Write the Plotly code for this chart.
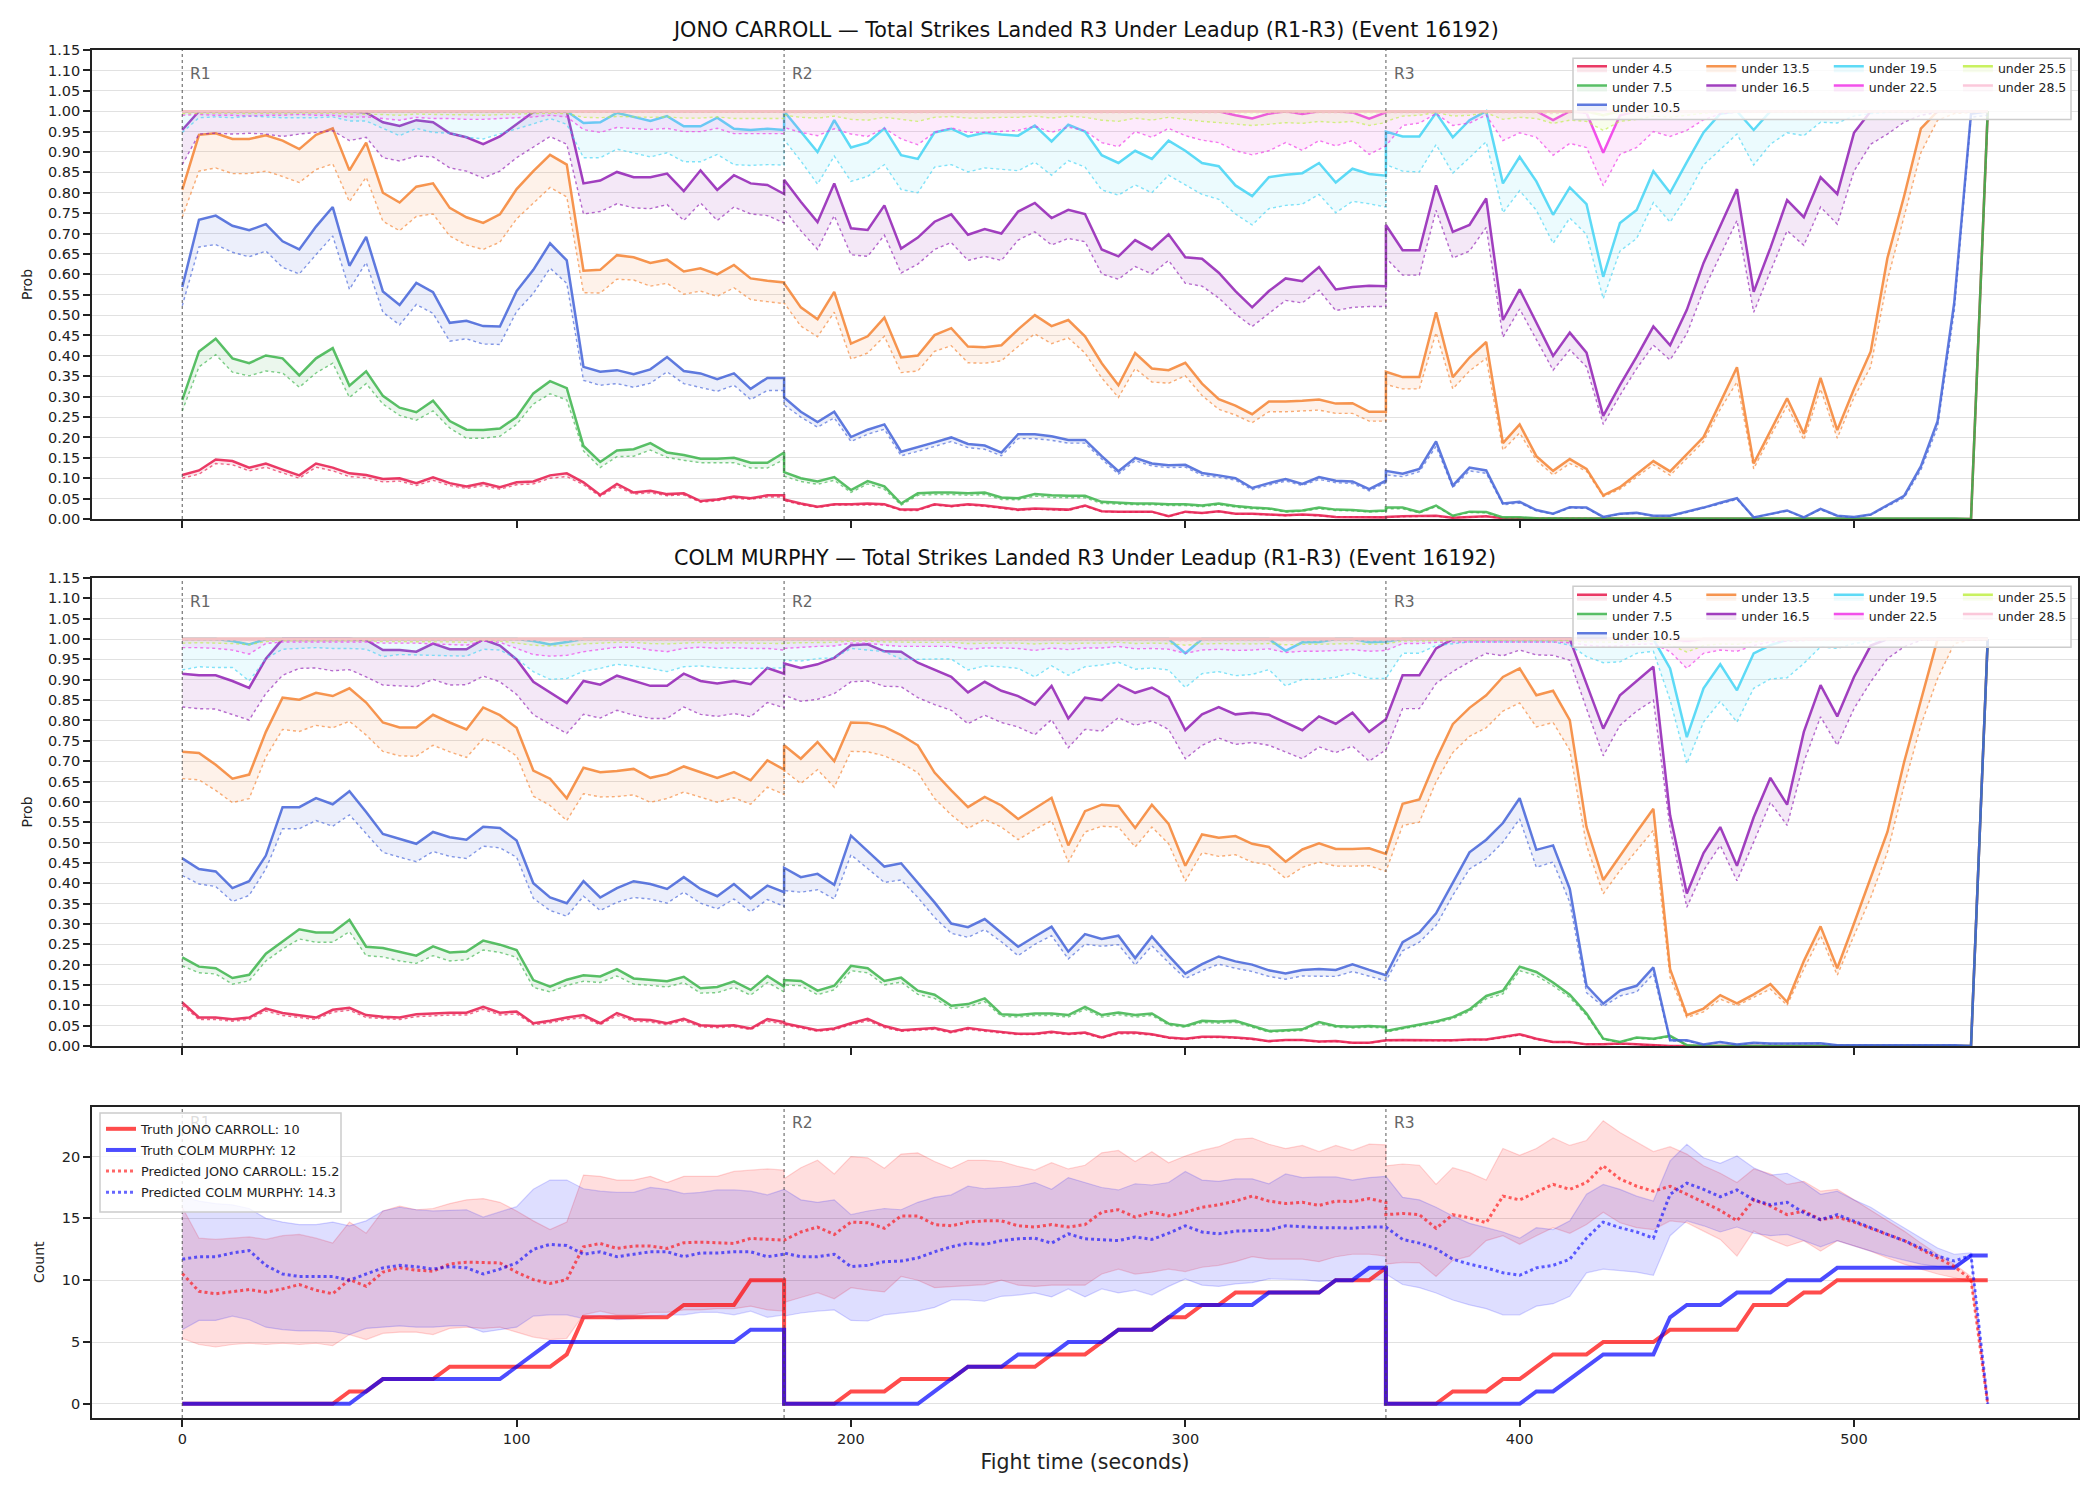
import plotly.graph_objects as go

# ------------------------------------------------------------------ data
# fight time (s): 37 samples per round, round boundaries repeated
T = [0, 5, 10, 15, 20, 25, 30, 35, 40, 45, 50, 55, 60, 65, 70, 75, 80, 85, 90, 95, 100, 105, 110, 115, 120, 125, 130, 135, 140, 145, 150, 155, 160, 165, 170, 175, 180,
     180, 185, 190, 195, 200, 205, 210, 215, 220, 225, 230, 235, 240, 245, 250, 255, 260, 265, 270, 275, 280, 285, 290, 295, 300, 305, 310, 315, 320, 325, 330, 335, 340, 345, 350, 355, 360,
     360, 365, 370, 375, 380, 385, 390, 395, 400, 405, 410, 415, 420, 425, 430, 435, 440, 445, 450, 455, 460, 465, 470, 475, 480, 485, 490, 495, 500, 505, 510, 515, 520, 525, 530, 535, 540]

ROUND_STARTS = [0, 180, 360]
ROUND_LABELS = ["R1", "R2", "R3"]
THRESH_NAMES = ["under 4.5", "under 7.5", "under 10.5", "under 13.5", "under 16.5",
                "under 19.5", "under 22.5", "under 25.5", "under 28.5"]
COLORS = ["#e6194b", "#3cb44b", "#4363d8", "#f58231", "#911eb4",
          "#42d4f4", "#f032e6", "#bfef45", "#fabed4"]
PROB_TICKS = [0.00, 0.05, 0.10, 0.15, 0.20, 0.25, 0.30, 0.35, 0.40, 0.45, 0.50, 0.55,
              0.60, 0.65, 0.70, 0.75, 0.80, 0.85, 0.90, 0.95, 1.00, 1.05, 1.10, 1.15]
COUNT_TICKS = [0, 5, 10, 15, 20]
TIME_TICKS = [0, 100, 200, 300, 400, 500]

# ---------------- JONO CARROLL (top panel): live probability (solid) and leadup (dotted)
C45 = [0.108,0.119,0.146,0.142,0.126,0.136,0.121,0.107,0.136,0.126, 0.112,0.108,0.098,0.100,0.088,0.102,0.088,0.080,0.088,0.078, 0.090,0.092,0.107,0.112,0.090,0.059,0.086,0.065,0.069,0.061, 0.063,0.044,0.048,0.055,0.051,0.058,0.058,
       0.048,0.038,0.030,0.036,0.036,0.038,0.036,0.023,0.023,0.036, 0.032,0.036,0.033,0.028,0.023,0.026,0.025,0.023,0.033,0.019, 0.018,0.018,0.018,0.007,0.018,0.015,0.019,0.013,0.013,0.011, 0.009,0.011,0.009,0.005,0.005,0.004,0.004,
       0.005,0.007,0.007,0.008,0.003,0.005,0.007,0.002,0.001,0.001, 0.001,0.001,0.001,0,0,0,0,0,0,0, 0,0,0,0,0,0,0,0,0,0, 0,0,0,0,0,0,1.0]
C45_D = [0.100,0.110,0.136,0.133,0.118,0.127,0.113,0.100,0.127,0.118, 0.104,0.101,0.091,0.093,0.082,0.095,0.082,0.075,0.082,0.073, 0.084,0.086,0.100,0.104,0.084,0.055,0.080,0.061,0.064,0.057, 0.059,0.041,0.045,0.051,0.048,0.054,0.054,
         0.045,0.035,0.028,0.034,0.034,0.035,0.034,0.021,0.021,0.034, 0.030,0.034,0.031,0.026,0.021,0.024,0.023,0.021,0.031,0.018, 0.017,0.017,0.017,0.006,0.017,0.014,0.018,0.012,0.012,0.010, 0.008,0.010,0.008,0.005,0.005,0.004,0.004,
         0.005,0.006,0.006,0.007,0.003,0.005,0.006,0.002,0.001,0.001, 0.001,0.001,0.001,0,0,0,0,0,0,0, 0,0,0,0,0,0,0,0,0,0, 0,0,0,0,0,0,0.99]
C75 = [0.292,0.411,0.442,0.394,0.382,0.401,0.394,0.352,0.394,0.419, 0.327,0.362,0.302,0.273,0.262,0.290,0.240,0.219,0.218,0.222, 0.250,0.308,0.338,0.321,0.179,0.140,0.168,0.171,0.186,0.163, 0.157,0.148,0.148,0.150,0.138,0.138,0.163,
       0.115,0.100,0.092,0.103,0.071,0.093,0.080,0.038,0.063,0.065, 0.065,0.063,0.065,0.053,0.051,0.061,0.058,0.057,0.057,0.042, 0.040,0.038,0.038,0.036,0.036,0.033,0.038,0.032,0.028,0.026, 0.019,0.021,0.028,0.023,0.022,0.019,0.021,
       0.028,0.028,0.017,0.033,0.008,0.018,0.017,0.004,0.004,0.002, 0.002,0.002,0.002,0.001,0.001,0.001,0.001,0.001,0.001,0.001, 0.001,0.001,0.001,0.001,0.001,0.001,0.001,0.001,0.001,0.001, 0.001,0.001,0.001,0.001,0.001,0.0,1.0]
C75_D = [0.265,0.373,0.403,0.360,0.351,0.363,0.358,0.323,0.358,0.382, 0.298,0.332,0.282,0.254,0.242,0.265,0.223,0.198,0.198,0.203, 0.232,0.282,0.307,0.292,0.167,0.126,0.153,0.154,0.169,0.151, 0.144,0.138,0.138,0.138,0.125,0.125,0.146,
         0.105,0.092,0.085,0.095,0.065,0.086,0.073,0.034,0.058,0.060, 0.060,0.058,0.060,0.048,0.047,0.056,0.053,0.052,0.052,0.038, 0.036,0.035,0.035,0.033,0.033,0.030,0.035,0.029,0.025,0.024, 0.017,0.019,0.025,0.021,0.020,0.017,0.019,
         0.025,0.025,0.015,0.030,0.007,0.016,0.015,0.003,0.003,0.002, 0.002,0.002,0.002,0.001,0.001,0.001,0.001,0.001,0.001,0.001, 0.001,0.001,0.001,0.001,0.001,0.001,0.001,0.001,0.001,0.001, 0.001,0.001,0.001,0.001,0.001,0.0,0.99]
C105 = [0.569,0.734,0.744,0.719,0.708,0.723,0.681,0.661,0.717,0.765, 0.621,0.692,0.558,0.525,0.579,0.556,0.481,0.486,0.473,0.472, 0.559,0.611,0.676,0.634,0.373,0.361,0.365,0.355,0.367,0.397, 0.363,0.357,0.343,0.357,0.319,0.346,0.346,
        0.298,0.263,0.238,0.263,0.201,0.219,0.232,0.165,0.176,0.188, 0.200,0.184,0.180,0.163,0.208,0.208,0.203,0.194,0.194,0.154, 0.117,0.150,0.136,0.132,0.133,0.113,0.107,0.100,0.076,0.088, 0.098,0.086,0.103,0.094,0.092,0.073,0.094,
        0.118,0.111,0.123,0.190,0.082,0.126,0.119,0.038,0.042,0.022, 0.013,0.029,0.028,0.005,0.013,0.015,0.008,0.008,0.018,0.028, 0.040,0.051,0.004,0.013,0.021,0.004,0.025,0.008,0.005,0.011, 0.033,0.057,0.129,0.240,0.532,0.994,1.0]
C105_D = [0.523,0.667,0.673,0.654,0.643,0.657,0.617,0.601,0.648,0.694, 0.563,0.629,0.507,0.476,0.526,0.504,0.436,0.442,0.429,0.428, 0.509,0.553,0.615,0.578,0.340,0.328,0.332,0.323,0.333,0.361, 0.332,0.323,0.313,0.328,0.293,0.315,0.315,
          0.280,0.250,0.225,0.248,0.190,0.208,0.220,0.155,0.166,0.178, 0.190,0.175,0.171,0.155,0.197,0.197,0.193,0.186,0.186,0.147, 0.110,0.143,0.130,0.126,0.127,0.107,0.102,0.095,0.072,0.083, 0.093,0.082,0.097,0.089,0.087,0.069,0.089,
          0.108,0.104,0.116,0.178,0.077,0.118,0.112,0.035,0.039,0.020, 0.012,0.027,0.026,0.004,0.012,0.014,0.007,0.007,0.016,0.026, 0.037,0.048,0.004,0.012,0.019,0.004,0.023,0.007,0.004,0.010, 0.030,0.052,0.120,0.225,0.510,0.985,0.99]
C135 = [0.808,0.942,0.946,0.932,0.932,0.941,0.928,0.907,0.942,0.958, 0.855,0.923,0.800,0.776,0.815,0.823,0.763,0.740,0.726,0.747, 0.809,0.853,0.893,0.869,0.609,0.611,0.647,0.642,0.628,0.636, 0.607,0.615,0.600,0.623,0.590,0.584,0.580,
        0.578,0.519,0.490,0.557,0.430,0.448,0.494,0.396,0.401,0.451, 0.468,0.423,0.421,0.426,0.465,0.500,0.473,0.488,0.448,0.382, 0.328,0.407,0.369,0.365,0.383,0.332,0.294,0.278,0.257,0.288, 0.288,0.290,0.293,0.283,0.284,0.263,0.263,
        0.361,0.348,0.348,0.507,0.348,0.396,0.434,0.186,0.232,0.154, 0.118,0.147,0.123,0.058,0.078,0.111,0.142,0.117,0.159,0.201, 0.286,0.372,0.136,0.218,0.296,0.209,0.346,0.218,0.319,0.411, 0.640,0.792,0.957,1.0,1.0,1.0,1.0]
C135_D = [0.740,0.853,0.861,0.847,0.847,0.853,0.840,0.825,0.857,0.871, 0.778,0.838,0.730,0.707,0.742,0.748,0.694,0.672,0.661,0.679, 0.736,0.775,0.813,0.790,0.555,0.554,0.588,0.586,0.571,0.578, 0.551,0.559,0.546,0.567,0.538,0.533,0.528,
          0.530,0.473,0.447,0.507,0.392,0.407,0.448,0.359,0.363,0.411, 0.425,0.383,0.382,0.388,0.423,0.454,0.430,0.444,0.407,0.346, 0.298,0.369,0.336,0.333,0.351,0.303,0.269,0.255,0.236,0.263, 0.263,0.265,0.267,0.259,0.259,0.240,0.240,
          0.330,0.319,0.319,0.457,0.319,0.363,0.394,0.169,0.211,0.144, 0.108,0.136,0.117,0.055,0.073,0.104,0.133,0.107,0.148,0.190, 0.269,0.336,0.123,0.203,0.278,0.194,0.319,0.198,0.298,0.373, 0.586,0.744,0.898,0.978,0.994,0.997,0.998]
C165 = [0.954,1.0,1.0,1.0,1.0,1.0,1.0,1.0,1.0,1.0, 1.0,0.997,0.973,0.964,0.978,0.973,0.946,0.936,0.919,0.938, 0.969,0.998,1.0,1.0,0.823,0.830,0.851,0.838,0.838,0.847, 0.804,0.855,0.807,0.843,0.823,0.819,0.797,
        0.832,0.778,0.728,0.823,0.713,0.709,0.769,0.663,0.690,0.729, 0.747,0.697,0.711,0.700,0.754,0.775,0.738,0.758,0.748,0.661, 0.644,0.684,0.661,0.698,0.642,0.638,0.604,0.559,0.519,0.559, 0.590,0.583,0.618,0.563,0.569,0.572,0.571,
        0.721,0.659,0.659,0.818,0.704,0.721,0.786,0.488,0.563,0.482, 0.400,0.457,0.408,0.253,0.328,0.398,0.472,0.426,0.513,0.628, 0.718,0.809,0.557,0.665,0.782,0.740,0.838,0.797,0.947,1.0, 1.0,1.0,1.0,1.0,1.0,1.0,1.0]
C165_D = [0.869,0.944,0.946,0.944,0.946,0.944,0.938,0.944,0.948,0.952, 0.928,0.936,0.886,0.878,0.890,0.888,0.861,0.853,0.836,0.853, 0.886,0.911,0.938,0.919,0.748,0.754,0.773,0.763,0.761,0.771, 0.732,0.775,0.732,0.765,0.748,0.744,0.726,
          0.760,0.707,0.661,0.744,0.648,0.644,0.696,0.603,0.625,0.661, 0.678,0.634,0.644,0.634,0.684,0.704,0.672,0.688,0.680,0.601, 0.588,0.619,0.601,0.634,0.578,0.571,0.542,0.503,0.472,0.503, 0.536,0.530,0.561,0.511,0.519,0.521,0.521,
          0.640,0.598,0.598,0.757,0.640,0.657,0.715,0.446,0.515,0.440, 0.365,0.415,0.373,0.232,0.303,0.369,0.426,0.390,0.454,0.561, 0.648,0.732,0.507,0.607,0.707,0.671,0.765,0.723,0.853,0.919, 0.944,0.973,0.990,0.997,0.998,0.998,0.998]
C195 = [1.0,1.0,1.0,1.0,1.0,1.0,1.0,1.0,1.0,1.0, 1.0,1.0,1.0,1.0,1.0,1.0,1.0,1.0,1.0,1.0, 1.0,1.0,1.0,1.0,0.971,0.973,0.996,0.986,0.976,0.988, 0.963,0.963,0.984,0.957,0.954,0.957,0.954,
        1.0,0.950,0.900,0.978,0.911,0.923,0.958,0.892,0.883,0.948, 0.957,0.938,0.947,0.943,0.940,0.965,0.926,0.967,0.950,0.892, 0.873,0.903,0.883,0.928,0.903,0.873,0.865,0.818,0.792,0.838, 0.844,0.848,0.873,0.825,0.859,0.846,0.842,
        0.950,0.938,0.938,0.996,0.936,0.978,1.0,0.823,0.888,0.828, 0.746,0.813,0.772,0.594,0.726,0.758,0.853,0.800,0.875,0.948, 0.994,1.0,0.954,1.0,1.0,1.0,1.0,1.0,1.0,1.0, 1.0,1.0,1.0,1.0,1.0,1.0,1.0]
C195_D = [0.948,0.984,0.986,0.984,0.988,0.986,0.984,0.984,0.984,0.986, 0.976,0.976,0.958,0.940,0.958,0.948,0.946,0.936,0.932,0.944, 0.957,0.969,0.982,0.968,0.886,0.886,0.907,0.898,0.888,0.898, 0.876,0.876,0.894,0.869,0.867,0.869,0.868,
          0.930,0.878,0.821,0.890,0.828,0.840,0.869,0.808,0.800,0.863, 0.869,0.851,0.861,0.857,0.854,0.875,0.843,0.879,0.863,0.807, 0.794,0.819,0.800,0.843,0.819,0.796,0.784,0.748,0.721,0.761, 0.769,0.772,0.796,0.751,0.779,0.773,0.765,
          0.869,0.853,0.851,0.918,0.848,0.886,0.925,0.751,0.805,0.757, 0.676,0.738,0.698,0.540,0.657,0.688,0.776,0.728,0.792,0.868, 0.907,0.944,0.868,0.919,0.947,0.940,0.973,0.971,0.988,0.994, 0.997,0.998,0.998,0.998,0.998,0.998,0.998]
C225 = [1.0,1.0,1.0,1.0,1.0,1.0,1.0,1.0,1.0,1.0, 1.0,1.0,1.0,1.0,1.0,1.0,1.0,1.0,1.0,1.0, 1.0,1.0,1.0,1.0,1.0,1.0,1.0,1.0,1.0,1.0, 1.0,1.0,1.0,1.0,1.0,1.0,1.0,
        1.0,1.0,1.0,1.0,1.0,1.0,1.0,1.0,1.0,1.0, 1.0,1.0,1.0,1.0,1.0,1.0,1.0,1.0,1.0,1.0, 1.0,1.0,1.0,1.0,1.0,1.0,1.0,0.990,0.982,0.994, 1.0,0.993,1.0,1.0,0.997,0.982,0.997,
        1.0,1.0,1.0,1.0,1.0,1.0,1.0,1.0,1.0,1.0, 0.978,1.0,0.996,0.898,0.990,1.0,1.0,1.0,1.0,1.0, 1.0,1.0,1.0,1.0,1.0,1.0,1.0,1.0,1.0,1.0, 1.0,1.0,1.0,1.0,1.0,1.0,1.0]
C225_D = [0.990,0.992,0.990,0.990,0.988,0.990,0.990,0.992,0.990,0.990, 0.985,0.986,0.982,0.978,0.985,0.982,0.982,0.980,0.980,0.982, 0.984,0.986,0.990,0.986,0.955,0.948,0.960,0.958,0.955,0.958, 0.950,0.950,0.958,0.945,0.945,0.945,0.945,
          0.960,0.948,0.940,0.957,0.944,0.938,0.958,0.932,0.918,0.948, 0.959,0.948,0.948,0.950,0.953,0.963,0.948,0.961,0.952,0.923, 0.913,0.950,0.936,0.958,0.940,0.929,0.923,0.903,0.893,0.903, 0.923,0.904,0.928,0.915,0.928,0.894,0.915,
          0.915,0.965,0.971,0.994,0.965,0.971,0.990,0.928,0.947,0.936, 0.892,0.921,0.911,0.817,0.894,0.911,0.950,0.938,0.953,0.979, 0.993,0.998,0.998,0.998,0.998,0.998,0.998,0.998,0.998,0.998, 0.998,0.998,0.998,0.998,0.998,0.998,0.998]
C255 = [1.0,1.0,1.0,1.0,1.0,1.0,1.0,1.0,1.0,1.0, 1.0,1.0,1.0,1.0,1.0,1.0,1.0,1.0,1.0,1.0, 1.0,1.0,1.0,1.0,1.0,1.0,1.0,1.0,1.0,1.0, 1.0,1.0,1.0,1.0,1.0,1.0,1.0,
        1.0,1.0,1.0,1.0,1.0,1.0,1.0,1.0,1.0,1.0, 1.0,1.0,1.0,1.0,1.0,1.0,1.0,1.0,1.0,1.0, 1.0,1.0,1.0,1.0,1.0,1.0,1.0,1.0,1.0,1.0, 1.0,1.0,1.0,1.0,1.0,1.0,1.0,
        1.0,1.0,1.0,1.0,1.0,1.0,1.0,1.0,1.0,1.0, 1.0,1.0,1.0,0.990,1.0,1.0,1.0,1.0,1.0,1.0, 1.0,1.0,1.0,1.0,1.0,1.0,1.0,1.0,1.0,1.0, 1.0,1.0,1.0,1.0,1.0,1.0,1.0]
C255_D = [0.994,0.995,0.995,0.995,0.994,0.995,0.994,0.995,0.995,0.995, 0.993,0.993,0.992,0.990,0.993,0.992,0.992,0.991,0.990,0.992, 0.993,0.994,0.995,0.994,0.985,0.984,0.987,0.986,0.985,0.986, 0.983,0.983,0.986,0.982,0.982,0.982,0.982,
          0.990,0.985,0.983,0.988,0.980,0.978,0.985,0.980,0.975,0.985, 0.987,0.983,0.983,0.985,0.985,0.988,0.983,0.988,0.985,0.978, 0.975,0.983,0.978,0.985,0.980,0.975,0.972,0.968,0.965,0.968, 0.972,0.970,0.975,0.972,0.975,0.965,0.972,
          0.975,0.988,0.990,0.997,0.988,0.990,0.996,0.980,0.985,0.982, 0.970,0.978,0.975,0.953,0.975,0.980,0.988,0.985,0.990,0.995, 0.998,0.998,0.998,0.998,0.998,0.998,0.998,0.998,0.998,0.998, 0.998,0.998,0.998,0.998,0.998,0.998,0.998]
C285 = [1.0,1.0,1.0,1.0,1.0,1.0,1.0,1.0,1.0,1.0, 1.0,1.0,1.0,1.0,1.0,1.0,1.0,1.0,1.0,1.0, 1.0,1.0,1.0,1.0,1.0,1.0,1.0,1.0,1.0,1.0, 1.0,1.0,1.0,1.0,1.0,1.0,1.0,
        1.0,1.0,1.0,1.0,1.0,1.0,1.0,1.0,1.0,1.0, 1.0,1.0,1.0,1.0,1.0,1.0,1.0,1.0,1.0,1.0, 1.0,1.0,1.0,1.0,1.0,1.0,1.0,1.0,1.0,1.0, 1.0,1.0,1.0,1.0,1.0,1.0,1.0,
        1.0,1.0,1.0,1.0,1.0,1.0,1.0,1.0,1.0,1.0, 1.0,1.0,1.0,1.0,1.0,1.0,1.0,1.0,1.0,1.0, 1.0,1.0,1.0,1.0,1.0,1.0,1.0,1.0,1.0,1.0, 1.0,1.0,1.0,1.0,1.0,1.0,1.0]
C285_D = [0.998,0.998,0.998,0.998,0.998,0.998,0.998,0.998,0.998,0.998, 0.998,0.998,0.998,0.998,0.998,0.998,0.998,0.998,0.998,0.998, 0.998,0.998,0.998,0.998,0.997,0.997,0.997,0.997,0.997,0.997, 0.997,0.997,0.997,0.997,0.997,0.997,0.997,
          0.996,0.996,0.996,0.996,0.996,0.996,0.996,0.996,0.996,0.996, 0.996,0.996,0.996,0.996,0.996,0.996,0.996,0.996,0.996,0.996, 0.996,0.996,0.996,0.996,0.996,0.996,0.996,0.996,0.996,0.996, 0.996,0.996,0.996,0.996,0.996,0.996,0.996,
          0.996,0.996,0.996,0.996,0.996,0.996,0.996,0.996,0.996,0.996, 0.994,0.996,0.995,0.990,0.994,0.998,0.998,0.998,0.998,0.998, 0.998,0.998,0.998,0.998,0.998,0.998,0.998,0.998,0.998,0.998, 0.998,0.998,0.998,0.998,0.998,0.998,0.998]

# ---------------- COLM MURPHY (middle panel)
M45 = [0.107,0.070,0.070,0.066,0.070,0.092,0.081,0.076,0.070,0.089, 0.094,0.076,0.072,0.070,0.078,0.080,0.082,0.082,0.096,0.082, 0.085,0.056,0.062,0.070,0.076,0.056,0.081,0.066,0.064,0.056, 0.067,0.051,0.049,0.051,0.043,0.066,0.059,
       0.056,0.048,0.039,0.043,0.056,0.067,0.049,0.039,0.041,0.044, 0.035,0.044,0.039,0.035,0.030,0.030,0.035,0.030,0.033,0.021, 0.033,0.033,0.029,0.021,0.018,0.023,0.023,0.021,0.018,0.012, 0.015,0.015,0.011,0.012,0.008,0.008,0.014,
       0.014,0.015,0.014,0.014,0.014,0.016,0.016,0.022,0.029,0.018, 0.010,0.010,0.004,0.004,0.006,0.004,0.002,0,0,0, 0,0,0,0,0,0,0,0,0,0, 0,0,0,0,0,0,1.0]
M45_D = [0.100,0.065,0.065,0.061,0.065,0.086,0.075,0.070,0.065,0.083, 0.088,0.070,0.067,0.065,0.072,0.074,0.076,0.076,0.090,0.076, 0.079,0.052,0.057,0.065,0.070,0.052,0.075,0.061,0.059,0.052, 0.062,0.047,0.045,0.047,0.040,0.061,0.054,
         0.052,0.044,0.036,0.040,0.052,0.062,0.045,0.036,0.038,0.041, 0.032,0.041,0.036,0.032,0.028,0.028,0.032,0.028,0.030,0.019, 0.030,0.030,0.027,0.019,0.016,0.021,0.021,0.019,0.016,0.011, 0.014,0.014,0.010,0.011,0.007,0.007,0.013,
         0.013,0.014,0.013,0.013,0.013,0.015,0.015,0.020,0.027,0.016, 0.009,0.009,0.004,0.004,0.005,0.004,0.002,0,0,0, 0,0,0,0,0,0,0,0,0,0, 0,0,0,0,0,0,0.99]
M75 = [0.218,0.195,0.191,0.167,0.175,0.227,0.257,0.287,0.279,0.279, 0.310,0.244,0.241,0.232,0.222,0.245,0.230,0.232,0.259,0.249, 0.236,0.162,0.146,0.163,0.174,0.171,0.189,0.166,0.163,0.159, 0.170,0.142,0.145,0.159,0.138,0.172,0.146,
       0.162,0.160,0.136,0.148,0.197,0.191,0.160,0.168,0.136,0.126, 0.099,0.103,0.117,0.078,0.076,0.080,0.080,0.076,0.096,0.076, 0.082,0.076,0.080,0.055,0.049,0.062,0.060,0.062,0.049,0.037, 0.039,0.041,0.059,0.049,0.047,0.049,0.047,
       0.037,0.045,0.052,0.060,0.071,0.090,0.123,0.136,0.195,0.182, 0.156,0.126,0.080,0.018,0.010,0.021,0.018,0.025,0.002,0, 0,0,0,0,0,0,0,0,0,0, 0,0,0,0,0,0,1.0]
M75_D = [0.197,0.180,0.177,0.152,0.160,0.209,0.238,0.263,0.255,0.255, 0.281,0.222,0.219,0.209,0.203,0.222,0.209,0.212,0.236,0.230, 0.218,0.144,0.133,0.149,0.159,0.156,0.172,0.152,0.149,0.145, 0.156,0.130,0.131,0.144,0.125,0.156,0.133,
         0.150,0.148,0.126,0.138,0.185,0.180,0.150,0.157,0.127,0.117, 0.092,0.096,0.109,0.073,0.071,0.075,0.075,0.071,0.090,0.071, 0.077,0.071,0.075,0.051,0.046,0.058,0.056,0.058,0.046,0.034, 0.036,0.038,0.055,0.046,0.044,0.046,0.044,
         0.034,0.042,0.049,0.057,0.067,0.085,0.116,0.128,0.185,0.173, 0.148,0.119,0.075,0.016,0.009,0.019,0.016,0.023,0.002,0, 0,0,0,0,0,0,0,0,0,0, 0,0,0,0,0,0,0.99]
M105 = [0.461,0.435,0.429,0.388,0.405,0.468,0.587,0.587,0.609,0.594, 0.626,0.575,0.521,0.509,0.497,0.526,0.513,0.507,0.539,0.536, 0.505,0.400,0.365,0.351,0.405,0.365,0.388,0.405,0.398,0.386, 0.415,0.386,0.368,0.398,0.363,0.394,0.378,
        0.438,0.415,0.423,0.396,0.517,0.480,0.441,0.449,0.402,0.353, 0.301,0.292,0.312,0.278,0.244,0.269,0.293,0.232,0.275,0.263, 0.271,0.216,0.269,0.222,0.178,0.201,0.220,0.208,0.200,0.186, 0.178,0.187,0.189,0.187,0.201,0.187,0.174,
        0.174,0.255,0.279,0.326,0.402,0.476,0.507,0.548,0.609,0.482, 0.493,0.386,0.148,0.104,0.136,0.148,0.193,0.014,0.014,0.004, 0.010,0.004,0.008,0.006,0.006,0.006,0.007,0.002,0.002,0.002, 0.002,0.002,0.002,0.002,0.002,0.0,1.0]
M105_D = [0.419,0.398,0.392,0.355,0.370,0.435,0.534,0.534,0.554,0.540, 0.568,0.521,0.476,0.464,0.453,0.478,0.466,0.461,0.491,0.487, 0.464,0.363,0.333,0.319,0.368,0.333,0.353,0.365,0.361,0.351, 0.378,0.351,0.337,0.361,0.330,0.360,0.343,
          0.382,0.378,0.384,0.361,0.470,0.435,0.402,0.408,0.365,0.316, 0.277,0.267,0.286,0.256,0.222,0.250,0.271,0.214,0.250,0.245, 0.249,0.199,0.246,0.205,0.166,0.185,0.201,0.191,0.183,0.171, 0.164,0.172,0.172,0.171,0.183,0.172,0.160,
          0.160,0.234,0.255,0.296,0.370,0.435,0.460,0.501,0.558,0.439, 0.452,0.353,0.131,0.097,0.123,0.133,0.177,0.012,0.012,0.003, 0.009,0.003,0.007,0.005,0.005,0.005,0.006,0.002,0.002,0.002, 0.002,0.002,0.002,0.002,0.002,0.0,0.99]
M135 = [0.723,0.720,0.691,0.657,0.667,0.772,0.856,0.851,0.868,0.860, 0.879,0.844,0.795,0.783,0.783,0.814,0.795,0.778,0.832,0.813, 0.782,0.677,0.657,0.609,0.684,0.673,0.676,0.681,0.659,0.668, 0.687,0.673,0.659,0.673,0.653,0.702,0.679,
        0.739,0.706,0.747,0.700,0.795,0.794,0.784,0.764,0.739,0.672, 0.628,0.587,0.612,0.591,0.558,0.585,0.610,0.493,0.577,0.593, 0.590,0.536,0.593,0.546,0.443,0.520,0.512,0.516,0.497,0.489, 0.453,0.483,0.498,0.484,0.484,0.486,0.472,
        0.472,0.595,0.606,0.704,0.791,0.831,0.862,0.907,0.928,0.862, 0.873,0.801,0.538,0.408,0.468,0.526,0.583,0.189,0.076,0.092, 0.125,0.105,0.127,0.152,0.108,0.209,0.294,0.191,0.301,0.411, 0.526,0.698,0.851,1.0,1.0,1.0,1.0]
M135_D = [0.657,0.654,0.628,0.598,0.608,0.710,0.778,0.773,0.788,0.782, 0.798,0.764,0.724,0.713,0.712,0.739,0.723,0.709,0.755,0.739, 0.713,0.614,0.591,0.554,0.620,0.612,0.613,0.617,0.599,0.608, 0.624,0.612,0.599,0.610,0.594,0.636,0.618,
          0.677,0.645,0.679,0.636,0.724,0.723,0.713,0.695,0.672,0.608, 0.568,0.535,0.557,0.538,0.507,0.532,0.554,0.452,0.526,0.540, 0.538,0.489,0.538,0.497,0.405,0.475,0.466,0.470,0.452,0.445, 0.412,0.439,0.452,0.442,0.442,0.443,0.429,
          0.429,0.542,0.550,0.649,0.721,0.761,0.782,0.823,0.843,0.784, 0.795,0.727,0.493,0.374,0.431,0.480,0.530,0.168,0.070,0.084, 0.115,0.099,0.119,0.140,0.100,0.189,0.271,0.174,0.271,0.365, 0.476,0.640,0.788,0.903,0.989,0.998,0.998]
M165 = [0.915,0.911,0.911,0.897,0.880,0.952,1.0,1.0,1.0,1.0, 1.0,0.998,0.973,0.973,0.969,0.989,0.975,0.975,0.999,0.984, 0.950,0.895,0.869,0.843,0.897,0.888,0.910,0.897,0.885,0.885, 0.915,0.897,0.891,0.897,0.889,0.929,0.915,
        0.940,0.929,0.938,0.954,0.985,0.987,0.970,0.969,0.942,0.924, 0.907,0.869,0.895,0.873,0.860,0.839,0.885,0.805,0.856,0.850, 0.888,0.868,0.881,0.858,0.776,0.815,0.833,0.815,0.819,0.814, 0.795,0.776,0.810,0.792,0.819,0.772,0.803,
        0.803,0.911,0.911,0.977,1.0,1.0,1.0,1.0,1.0,1.0, 1.0,1.0,0.890,0.780,0.862,0.897,0.932,0.567,0.375,0.474, 0.538,0.443,0.562,0.659,0.593,0.772,0.887,0.810,0.907,0.984, 1.0,1.0,1.0,1.0,1.0,1.0,1.0]
M165_D = [0.833,0.829,0.828,0.814,0.801,0.866,0.911,0.928,0.929,0.922, 0.925,0.907,0.887,0.885,0.883,0.901,0.887,0.888,0.909,0.895, 0.864,0.814,0.792,0.768,0.815,0.806,0.825,0.813,0.805,0.805, 0.833,0.815,0.810,0.817,0.809,0.844,0.831,
          0.862,0.847,0.852,0.866,0.895,0.897,0.884,0.883,0.856,0.839, 0.825,0.792,0.813,0.795,0.784,0.765,0.802,0.733,0.778,0.774, 0.807,0.788,0.799,0.778,0.706,0.739,0.757,0.741,0.746,0.739, 0.723,0.706,0.735,0.721,0.737,0.700,0.728,
          0.728,0.829,0.829,0.891,0.920,0.944,0.965,0.959,0.973,0.961, 0.960,0.948,0.829,0.713,0.788,0.823,0.850,0.534,0.341,0.431, 0.493,0.406,0.501,0.599,0.542,0.698,0.809,0.739,0.829,0.895, 0.952,0.981,0.997,0.998,0.998,0.998,0.998]
M195 = [1.0,1.0,1.0,0.995,0.987,1.0,1.0,1.0,1.0,1.0, 1.0,1.0,1.0,1.0,1.0,1.0,1.0,1.0,1.0,1.0, 1.0,0.995,0.987,0.993,1.0,1.0,1.0,1.0,1.0,1.0, 1.0,1.0,1.0,1.0,1.0,1.0,1.0,
        1.0,1.0,1.0,1.0,1.0,1.0,1.0,1.0,1.0,1.0, 1.0,1.0,1.0,1.0,1.0,1.0,1.0,1.0,1.0,1.0, 1.0,1.0,1.0,1.0,0.965,1.0,1.0,1.0,1.0,1.0, 0.971,0.992,0.993,1.0,1.0,0.992,0.994,
        0.994,1.0,1.0,1.0,1.0,1.0,1.0,1.0,1.0,1.0, 1.0,1.0,1.0,1.0,1.0,1.0,1.0,0.928,0.759,0.879, 0.938,0.874,0.965,0.985,0.998,1.0,1.0,1.0,1.0,1.0, 1.0,1.0,1.0,1.0,1.0,1.0,1.0]
M195_D = [0.924,0.932,0.930,0.930,0.897,0.952,0.975,0.977,0.979,0.977, 0.977,0.975,0.957,0.962,0.961,0.961,0.959,0.958,0.975,0.973, 0.952,0.920,0.901,0.903,0.921,0.928,0.938,0.934,0.928,0.920, 0.932,0.934,0.930,0.928,0.928,0.929,0.929,
          0.948,0.946,0.952,0.954,0.977,0.973,0.969,0.951,0.950,0.951, 0.951,0.924,0.934,0.932,0.928,0.907,0.934,0.911,0.932,0.936, 0.943,0.926,0.929,0.924,0.881,0.915,0.920,0.910,0.913,0.925, 0.885,0.901,0.901,0.906,0.917,0.903,0.903,
          0.903,0.965,0.965,0.984,0.989,0.993,0.993,0.993,0.993,0.993, 0.993,0.985,0.957,0.942,0.944,0.965,0.970,0.850,0.694,0.796, 0.847,0.796,0.879,0.902,0.905,0.940,0.981,0.977,0.989,0.995, 0.997,0.998,0.998,0.998,0.998,0.998,0.998]
M225 = [1.0,1.0,1.0,1.0,1.0,1.0,1.0,1.0,1.0,1.0, 1.0,1.0,1.0,1.0,1.0,1.0,1.0,1.0,1.0,1.0, 1.0,1.0,1.0,1.0,1.0,1.0,1.0,1.0,1.0,1.0, 1.0,1.0,1.0,1.0,1.0,1.0,1.0,
        1.0,1.0,1.0,1.0,1.0,1.0,1.0,1.0,1.0,1.0, 1.0,1.0,1.0,1.0,1.0,1.0,1.0,1.0,1.0,1.0, 1.0,1.0,1.0,1.0,1.0,1.0,1.0,1.0,1.0,1.0, 1.0,1.0,1.0,1.0,1.0,1.0,1.0,
        1.0,1.0,1.0,1.0,1.0,1.0,1.0,1.0,1.0,1.0, 1.0,1.0,1.0,1.0,1.0,1.0,1.0,1.0,0.995,1.0, 1.0,1.0,1.0,1.0,1.0,1.0,1.0,1.0,1.0,1.0, 1.0,1.0,1.0,1.0,1.0,1.0,1.0]
M225_D = [0.979,0.979,0.977,0.973,0.963,0.989,0.993,0.993,0.993,0.993, 0.993,0.993,0.990,0.990,0.990,0.988,0.987,0.985,0.995,0.992, 0.977,0.962,0.958,0.960,0.969,0.975,0.980,0.980,0.973,0.969, 0.977,0.980,0.977,0.979,0.977,0.977,0.973,
          0.977,0.980,0.982,0.983,0.990,0.990,0.985,0.982,0.982,0.982, 0.982,0.975,0.978,0.978,0.977,0.972,0.978,0.974,0.978,0.978, 0.982,0.976,0.977,0.975,0.965,0.973,0.975,0.972,0.973,0.976, 0.967,0.970,0.970,0.972,0.974,0.970,0.972,
          0.972,0.989,0.989,0.992,0.993,0.993,0.993,0.993,0.993,0.993, 0.993,0.991,0.985,0.982,0.983,0.987,0.988,0.969,0.928,0.965, 0.973,0.970,0.984,0.993,0.995,0.997,0.998,0.998,0.998,0.998, 0.998,0.998,0.998,0.998,0.998,0.998,0.998]
M255 = [1.0,1.0,1.0,1.0,1.0,1.0,1.0,1.0,1.0,1.0, 1.0,1.0,1.0,1.0,1.0,1.0,1.0,1.0,1.0,1.0, 1.0,1.0,1.0,1.0,1.0,1.0,1.0,1.0,1.0,1.0, 1.0,1.0,1.0,1.0,1.0,1.0,1.0,
        1.0,1.0,1.0,1.0,1.0,1.0,1.0,1.0,1.0,1.0, 1.0,1.0,1.0,1.0,1.0,1.0,1.0,1.0,1.0,1.0, 1.0,1.0,1.0,1.0,1.0,1.0,1.0,1.0,1.0,1.0, 1.0,1.0,1.0,1.0,1.0,1.0,1.0,
        1.0,1.0,1.0,1.0,1.0,1.0,1.0,1.0,1.0,1.0, 1.0,1.0,1.0,1.0,1.0,1.0,1.0,1.0,1.0,1.0, 1.0,1.0,1.0,1.0,1.0,1.0,1.0,1.0,1.0,1.0, 1.0,1.0,1.0,1.0,1.0,1.0,1.0]
M255_D = [0.990,0.991,0.990,0.989,0.986,0.994,0.996,0.996,0.996,0.996, 0.996,0.996,0.994,0.994,0.994,0.993,0.993,0.992,0.997,0.995, 0.990,0.985,0.983,0.984,0.988,0.990,0.992,0.992,0.989,0.988, 0.990,0.992,0.990,0.991,0.990,0.990,0.989,
          0.990,0.991,0.992,0.992,0.995,0.995,0.993,0.992,0.992,0.992, 0.992,0.989,0.990,0.990,0.990,0.988,0.990,0.989,0.990,0.990, 0.992,0.989,0.990,0.989,0.985,0.988,0.989,0.988,0.988,0.989, 0.986,0.987,0.987,0.988,0.989,0.987,0.988,
          0.988,0.995,0.995,0.996,0.997,0.997,0.997,0.997,0.997,0.997, 0.997,0.996,0.993,0.992,0.992,0.994,0.995,0.986,0.968,0.984, 0.988,0.987,0.993,0.997,0.998,0.998,0.998,0.998,0.998,0.998, 0.998,0.998,0.998,0.998,0.998,0.998,0.998]
M285 = [1.0,1.0,1.0,1.0,1.0,1.0,1.0,1.0,1.0,1.0, 1.0,1.0,1.0,1.0,1.0,1.0,1.0,1.0,1.0,1.0, 1.0,1.0,1.0,1.0,1.0,1.0,1.0,1.0,1.0,1.0, 1.0,1.0,1.0,1.0,1.0,1.0,1.0,
        1.0,1.0,1.0,1.0,1.0,1.0,1.0,1.0,1.0,1.0, 1.0,1.0,1.0,1.0,1.0,1.0,1.0,1.0,1.0,1.0, 1.0,1.0,1.0,1.0,1.0,1.0,1.0,1.0,1.0,1.0, 1.0,1.0,1.0,1.0,1.0,1.0,1.0,
        1.0,1.0,1.0,1.0,1.0,1.0,1.0,1.0,1.0,1.0, 1.0,1.0,1.0,1.0,1.0,1.0,1.0,1.0,1.0,1.0, 1.0,1.0,1.0,1.0,1.0,1.0,1.0,1.0,1.0,1.0, 1.0,1.0,1.0,1.0,1.0,1.0,1.0]
M285_D = [0.997,0.997,0.997,0.997,0.996,0.998,0.998,0.998,0.998,0.998, 0.998,0.998,0.998,0.998,0.998,0.998,0.998,0.998,0.998,0.998, 0.997,0.996,0.996,0.996,0.997,0.997,0.997,0.997,0.997,0.997, 0.997,0.997,0.997,0.997,0.997,0.997,0.997,
          0.997,0.997,0.997,0.997,0.998,0.998,0.997,0.997,0.997,0.997, 0.997,0.996,0.997,0.997,0.997,0.996,0.997,0.996,0.997,0.997, 0.997,0.996,0.997,0.996,0.995,0.996,0.996,0.996,0.996,0.996, 0.995,0.996,0.996,0.996,0.996,0.996,0.996,
          0.996,0.998,0.998,0.998,0.998,0.998,0.998,0.998,0.998,0.998, 0.998,0.998,0.997,0.997,0.997,0.998,0.998,0.996,0.990,0.996, 0.997,0.997,0.998,0.998,0.998,0.998,0.998,0.998,0.998,0.998, 0.998,0.998,0.998,0.998,0.998,0.998,0.998]

# ---------------- Counts (bottom panel)
TRUTH_CARROLL = [0,0,0,0,0,0,0,0,0,0, 1,1,2,2,2,2,3,3,3,3, 3,3,3,4,7,7,7,7,7,7, 8,8,8,8,10,10,10,
                 0,0,0,0,1,1,1,2,2,2, 2,3,3,3,3,3,4,4,4,5, 6,6,6,7,7,8,8,9,9,9, 9,9,9,10,10,10,11,
                 0,0,0,0,1,1,1,2,2,3, 4,4,4,5,5,5,5,6,6,6, 6,6,8,8,8,9,9,10,10,10, 10,10,10,10,10,10,10]
TRUTH_MURPHY = [0,0,0,0,0,0,0,0,0,0, 0,1,2,2,2,2,2,2,2,2, 3,4,5,5,5,5,5,5,5,5, 5,5,5,5,6,6,6,
                0,0,0,0,0,0,0,0,0,1, 2,3,3,3,4,4,4,5,5,5, 6,6,6,7,8,8,8,8,8,9, 9,9,9,10,10,11,11,
                0,0,0,0,0,0,0,0,0,1, 1,2,3,4,4,4,4,7,8,8, 8,9,9,9,10,10,10,11,11,11, 11,11,11,11,11,12,12]
PRED_CARROLL = [10.54,9.10,8.90,9.10,9.24,9.03,9.30,9.65,9.19,8.90, 10.05,9.51,10.65,11.00,10.81,10.73,11.32,11.46,11.46,11.40, 10.65,10.05,9.73,10.05,12.70,12.97,12.57,12.76,12.76,12.57, 13.03,13.08,13.03,12.97,13.38,13.30,13.24,
                13.24,13.90,14.30,13.70,14.70,14.65,14.20,15.20,15.20,14.50, 14.40,14.70,14.80,14.80,14.40,14.30,14.50,14.30,14.50,15.50, 15.70,15.10,15.50,15.20,15.50,15.90,16.10,16.40,16.80,16.40, 16.20,16.30,16.05,16.40,16.35,16.60,16.30,
                15.30,15.40,15.30,14.20,15.30,15.05,14.65,16.80,16.50,17.10, 17.75,17.35,17.90,19.25,18.20,17.60,17.20,17.60,16.95,16.30, 15.65,14.80,16.50,16.00,15.30,15.60,14.90,15.10,14.70,14.20, 13.70,13.20,12.50,11.80,11.10,10.05,0.0]
CARROLL_HI = [15.9,13.4,13.3,13.4,13.5,13.3,13.6,13.7,13.4,13.0, 14.7,13.8,15.6,16.0,15.7,15.8,16.2,16.5,16.6,16.3, 15.6,14.8,14.1,14.7,18.5,18.4,18.1,18.1,18.4,17.9, 18.4,18.4,18.4,18.8,18.9,19.0,18.9,
              18.2,19.1,19.7,18.6,20.0,19.9,19.05,20.2,20.3,19.6, 19.05,19.7,19.7,19.6,19.2,18.9,19.5,19.0,19.3,20.3, 20.5,19.6,20.4,19.5,20.05,20.5,20.8,21.4,21.5,21.0, 20.65,20.9,20.4,20.9,20.5,21.0,20.95,
              19.25,19.4,19.3,17.75,19.1,18.7,18.1,20.65,20.1,20.65, 21.5,20.9,21.3,22.9,21.95,21.2,20.4,20.8,20.2,19.25, 18.65,17.9,19.0,18.6,17.75,18.0,17.2,17.35,16.5,15.7, 14.8,13.97,13.0,12.1,11.3,10.3,0.0]
CARROLL_LO = [5.3,4.8,4.6,4.8,4.9,4.8,4.9,4.8,4.9,4.7, 5.6,5.2,5.7,5.8,5.8,5.6,6.1,6.2,6.1,6.2, 5.8,5.4,5.2,5.3,7.2,7.5,7.2,7.2,7.4,7.4, 7.6,7.6,7.7,7.7,7.9,7.6,7.5,
              8.2,8.6,9.0,8.5,9.4,9.2,9.05,10.3,10.0,9.4, 9.5,9.6,9.65,10.0,9.6,9.5,9.6,9.6,9.6,10.5, 10.9,10.5,10.65,10.9,10.7,11.05,11.2,11.5,11.9,11.7, 11.7,11.7,11.5,11.9,12.1,12.1,11.95,
              11.3,11.45,11.4,10.3,11.6,11.95,13.2,13.6,12.9,13.6, 14.25,13.8,14.5,15.5,14.65,14.25,14.1,14.8,14.65,13.97, 13.3,11.95,13.97,13.3,12.75,13.2,12.35,13.2,12.75,12.35, 11.8,11.3,10.9,10.5,10.2,9.9,0.0]
PRED_MURPHY = [11.7,11.9,11.9,12.2,12.4,11.2,10.5,10.3,10.3,10.3, 10.0,10.5,11.0,11.2,11.1,10.9,11.1,11.0,10.5,10.9, 11.4,12.5,12.9,12.8,12.1,12.3,11.9,12.1,12.3,12.3, 11.9,12.2,12.2,12.3,12.3,11.9,12.1,
               12.2,11.9,11.9,12.1,11.1,11.2,11.5,11.55,11.8,12.3, 12.7,13.0,12.9,13.2,13.35,13.4,13.0,13.75,13.35,13.3, 13.2,13.5,13.3,13.8,14.4,13.9,13.75,13.97,14.0,14.05, 14.4,14.3,14.25,14.25,14.2,14.3,14.3,
               14.3,13.3,13.0,12.55,11.7,11.3,11.0,10.6,10.4,11.0, 11.2,11.7,13.4,14.7,14.25,13.9,13.4,16.95,17.85,17.35, 16.75,17.3,16.5,16.1,16.3,15.45,14.9,15.3,14.8,14.25, 13.7,13.2,12.6,11.95,11.55,12.0,0.0]
MURPHY_HI = [16.8,16.4,16.2,16.1,15.8,15.0,14.7,14.5,14.5,14.7, 14.4,14.8,15.6,15.9,15.7,15.6,15.65,15.7,15.1,15.5, 15.95,17.35,18.1,18.1,17.4,17.2,17.1,17.1,17.5,17.35, 17.0,17.1,17.3,17.3,17.2,16.9,17.3,
             17.35,16.5,16.3,16.5,15.3,15.6,15.8,15.7,16.3,16.7, 16.9,17.6,17.4,17.5,17.6,17.9,17.35,18.3,17.9,17.5, 17.3,17.8,17.7,17.9,18.8,18.1,18.0,18.2,18.2,17.8, 18.6,18.3,18.35,18.35,18.1,18.3,18.4,
             18.4,16.7,16.5,15.9,15.2,14.6,14.25,13.9,13.4,14.25, 14.1,14.8,16.95,17.75,17.35,16.8,16.4,19.65,21.0,19.9, 19.45,20.05,19.1,18.5,18.65,17.9,16.95,17.2,16.5,15.9, 15.05,14.25,13.4,12.6,12.1,12.2,0.0]
MURPHY_LO = [6.0,6.75,6.75,7.1,6.8,6.2,6.0,5.9,5.9,5.85, 5.6,6.1,6.2,6.3,6.2,6.2,6.3,6.3,5.8,6.0, 6.2,7.1,7.2,7.2,6.9,7.1,6.8,6.9,7.1,7.2, 7.2,7.4,7.4,7.2,7.5,7.0,7.2,
             7.1,7.35,7.5,7.6,6.75,6.7,7.2,7.35,7.5,7.8, 8.4,8.4,8.3,8.7,8.8,8.97,8.65,9.3,8.65,9.3, 8.97,9.2,8.8,9.5,10.1,9.6,9.5,9.7,9.8,10.1, 10.1,10.05,9.9,9.97,10.05,10.1,10.0,
             10.5,9.65,9.4,8.97,8.4,8.0,7.7,7.2,7.2,7.9, 8.1,8.7,10.6,10.9,10.8,10.65,10.4,13.6,14.8,14.4, 13.9,14.3,13.8,13.6,13.7,13.2,12.7,13.2,12.75,12.35, 11.95,11.6,11.3,11.1,11.0,11.8,0.0]

TRUTH_LABELS = ["Truth JONO CARROLL: 10", "Truth COLM MURPHY: 12"]
PRED_LABELS = ["Predicted JONO CARROLL: 15.2", "Predicted COLM MURPHY: 14.3"]
TITLES = ["JONO CARROLL \u2014 Total Strikes Landed R3 Under Leadup (R1-R3) (Event 16192)",
          "COLM MURPHY \u2014 Total Strikes Landed R3 Under Leadup (R1-R3) (Event 16192)"]

CARROLL_SOLID = [C45, C75, C105, C135, C165, C195, C225, C255, C285]
CARROLL_DOT = [C45_D, C75_D, C105_D, C135_D, C165_D, C195_D, C225_D, C255_D, C285_D]
MURPHY_SOLID = [M45, M75, M105, M135, M165, M195, M225, M255, M285]
MURPHY_DOT = [M45_D, M75_D, M105_D, M135_D, M165_D, M195_D, M225_D, M255_D, M285_D]

_all = {"TRUTH_CARROLL": TRUTH_CARROLL, "TRUTH_MURPHY": TRUTH_MURPHY, "PRED_CARROLL": PRED_CARROLL,
        "CARROLL_HI": CARROLL_HI, "CARROLL_LO": CARROLL_LO, "PRED_MURPHY": PRED_MURPHY,
        "MURPHY_HI": MURPHY_HI, "MURPHY_LO": MURPHY_LO}
for i in range(9):
    _all["C_solid_%d" % i] = CARROLL_SOLID[i]
    _all["C_dot_%d" % i] = CARROLL_DOT[i]
    _all["M_solid_%d" % i] = MURPHY_SOLID[i]
    _all["M_dot_%d" % i] = MURPHY_DOT[i]
_bad = [(k, len(v)) for k, v in _all.items() if len(v) != len(T)]
if _bad:
    raise ValueError("length mismatch vs T=%d: %s" % (len(T), _bad))

# ------------------------------------------------------------------ layout geometry (pixels)
W, H = 2100, 1500
ML, MR, MT, MB = 92, 22, 50, 82
PW, PH = W - ML - MR, H - MT - MB


def fx(px):
    return (px - ML) / PW


def fy(py):
    return (H - MB - py) / PH


def rgba(h, a):
    h = h.lstrip("#")
    return "rgba(%d,%d,%d,%s)" % (int(h[0:2], 16), int(h[2:4], 16), int(h[4:6], 16), a)


FONT = "DejaVu Sans"
TOP_DOM = [fy(519), 1.0]
MID_DOM = [fy(1046), fy(578)]
BOT_DOM = [0.0, fy(1106.5)]

fig = go.Figure()

LEGEND_COL = [0, 0, 0, 1, 1, 2, 2, 3, 3]


def add_prob_panel(xa, ya, solids, dots, legend_ids):
    for i in range(9):
        col = COLORS[i]
        lg = legend_ids[LEGEND_COL[i]]
        fig.add_trace(go.Scatter(x=T, y=dots[i], xaxis=xa, yaxis=ya, mode="lines",
                                 line=dict(color=rgba(col, 0.65), width=1.4, dash="dot"),
                                 showlegend=False, hoverinfo="skip", legend=lg))
        fig.add_trace(go.Scatter(x=T, y=solids[i], xaxis=xa, yaxis=ya, mode="lines",
                                 line=dict(color=rgba(col, 0.85), width=2.5),
                                 fill="tonexty", fillcolor=rgba(col, 0.10),
                                 name=THRESH_NAMES[i], legend=lg, showlegend=True))


add_prob_panel("x", "y", CARROLL_SOLID, CARROLL_DOT, ["legend", "legend2", "legend3", "legend4"])
add_prob_panel("x2", "y2", MURPHY_SOLID, MURPHY_DOT, ["legend5", "legend6", "legend7", "legend8"])

# bottom panel: uncertainty bands
for lo, hi, c in [(CARROLL_LO, CARROLL_HI, "#ff0000"), (MURPHY_LO, MURPHY_HI, "#0000ff")]:
    fig.add_trace(go.Scatter(x=T, y=lo, xaxis="x3", yaxis="y3", mode="lines",
                             line=dict(color=rgba(c, 0.16), width=1.2), showlegend=False,
                             hoverinfo="skip", legend="legend9"))
    fig.add_trace(go.Scatter(x=T, y=hi, xaxis="x3", yaxis="y3", mode="lines",
                             line=dict(color=rgba(c, 0.16), width=1.2), fill="tonexty",
                             fillcolor=rgba(c, 0.13), showlegend=False, hoverinfo="skip",
                             legend="legend9"))
fig.add_trace(go.Scatter(x=T, y=TRUTH_CARROLL, xaxis="x3", yaxis="y3", mode="lines",
                         line=dict(color="rgba(255,0,0,0.7)", width=4), name=TRUTH_LABELS[0],
                         legend="legend9", legendgroup="g1"))
fig.add_trace(go.Scatter(x=T, y=TRUTH_MURPHY, xaxis="x3", yaxis="y3", mode="lines",
                         line=dict(color="rgba(0,0,255,0.7)", width=4), name=TRUTH_LABELS[1],
                         legend="legend9", legendgroup="g2"))
fig.add_trace(go.Scatter(x=T, y=PRED_CARROLL, xaxis="x3", yaxis="y3", mode="lines",
                         line=dict(color="rgba(255,0,0,0.6)", width=3, dash="dot"),
                         name=PRED_LABELS[0], legend="legend9", legendgroup="g3"))
fig.add_trace(go.Scatter(x=T, y=PRED_MURPHY, xaxis="x3", yaxis="y3", mode="lines",
                         line=dict(color="rgba(0,0,255,0.6)", width=3, dash="dot"),
                         name=PRED_LABELS[1], legend="legend9", legendgroup="g4"))

# ------------------------------------------------------------------ axes
tickfont = dict(family=FONT, size=14.5, color="#222")
common = dict(showline=True, linecolor="#222", linewidth=1.7, mirror=True, ticks="outside",
              ticklen=7, tickwidth=1.6, tickcolor="#222", tickfont=tickfont, zeroline=False)
xcommon = dict(common, range=[-27, 567], tickvals=TIME_TICKS, showgrid=False)
ycommon = dict(common, showgrid=True, gridcolor="#e1e1e1", gridwidth=1.3)

layout = dict(
    width=W, height=H, margin=dict(l=ML, r=MR, t=MT, b=MB, autoexpand=False),
    paper_bgcolor="white", plot_bgcolor="white", hovermode=False,
    font=dict(family=FONT, color="#222"),
    xaxis=dict(xcommon, anchor="y", domain=[0, 1], showticklabels=False),
    xaxis2=dict(xcommon, anchor="y2", domain=[0, 1], showticklabels=False, matches="x"),
    xaxis3=dict(xcommon, anchor="y3", domain=[0, 1], matches="x",
                title=dict(text="Fight time (seconds)", font=dict(family=FONT, size=20.5), standoff=8)),
    yaxis=dict(ycommon, anchor="x", domain=TOP_DOM, range=[0, 1.1501], tickvals=PROB_TICKS,
               tickformat=".2f", title=dict(text="Prob", font=dict(family=FONT, size=14), standoff=12)),
    yaxis2=dict(ycommon, anchor="x2", domain=MID_DOM, range=[0, 1.1501], tickvals=PROB_TICKS,
                tickformat=".2f", title=dict(text="Prob", font=dict(family=FONT, size=14), standoff=12)),
    yaxis3=dict(ycommon, anchor="x3", domain=BOT_DOM, range=[-1.145, 24.05], tickvals=COUNT_TICKS,
                title=dict(text="Count", font=dict(family=FONT, size=14), standoff=14)),
)

# legends: one per column so the entries flow column-wise like the reference
leg_base = dict(xanchor="left", yanchor="top", bgcolor="rgba(0,0,0,0)", borderwidth=0,
                font=dict(family=FONT, size=12.5, color="#222"), tracegroupgap=0,
                orientation="v", traceorder="normal")
col_px = [1572, 1701.3, 1828.8, 1957.9]
top_row_y = 53.7
mid_row_y = 582.1
names_top = ["legend", "legend2", "legend3", "legend4"]
names_mid = ["legend5", "legend6", "legend7", "legend8"]
for k in range(4):
    layout[names_top[k]] = dict(leg_base, x=fx(col_px[k]), y=fy(top_row_y))
    layout[names_mid[k]] = dict(leg_base, x=fx(col_px[k]), y=fy(mid_row_y))
layout["legend9"] = dict(leg_base, x=fx(101), y=fy(1114), tracegroupgap=1.5,
                         traceorder="grouped", font=dict(family=FONT, size=12.8, color="#222"))

fig.update_layout(**layout)

# ------------------------------------------------------------------ shapes & annotations
shapes = []
for xr, yr in [("x", "y"), ("x2", "y2"), ("x3", "y3")]:
    for s in ROUND_STARTS:
        shapes.append(dict(type="line", xref=xr, yref=yr + " domain", x0=s, x1=s, y0=0, y1=1,
                           line=dict(color="rgba(70,70,70,0.75)", width=1.2, dash="dot"),
                           layer="above"))
# legend frames
for (x0, x1, y0, y1) in [(1573, 2071, 58.3, 119.5), (1573, 2071, 586.3, 647.2), (100, 341, 1113, 1212)]:
    shapes.append(dict(type="rect", xref="paper", yref="paper", x0=fx(x0), x1=fx(x1),
                       y0=fy(y1), y1=fy(y0), fillcolor="rgba(255,255,255,0.82)",
                       line=dict(color="#cccccc", width=1.5), layer="above"))

annotations = []
for ti, dom in zip(TITLES, [TOP_DOM, MID_DOM]):
    annotations.append(dict(text=ti, xref="paper", yref="paper", x=0.5, y=dom[1], xanchor="center",
                            yanchor="bottom", yshift=6, showarrow=False,
                            font=dict(family=FONT, size=20.7, color="#111")))
for yr, yv in [("y", 1.092), ("y2", 1.092)]:
    for s, lab in zip(ROUND_STARTS, ROUND_LABELS):
        annotations.append(dict(text=lab, xref="x" if yr == "y" else "x2", yref=yr, x=s, y=yv,
                                xanchor="left", yanchor="middle", xshift=6, showarrow=False,
                                font=dict(family=FONT, size=15.5, color="#666")))
for s, lab in zip(ROUND_STARTS, ROUND_LABELS):
    annotations.append(dict(text=lab, xref="x3", yref="y3", x=s, y=22.7, xanchor="left",
                            yanchor="middle", xshift=6, showarrow=False,
                            font=dict(family=FONT, size=15.5,
                                      color="rgba(102,102,102,0.22)" if s == 0 else "#666")))

fig.update_layout(shapes=shapes, annotations=annotations)
fig.write_html("out.html")
